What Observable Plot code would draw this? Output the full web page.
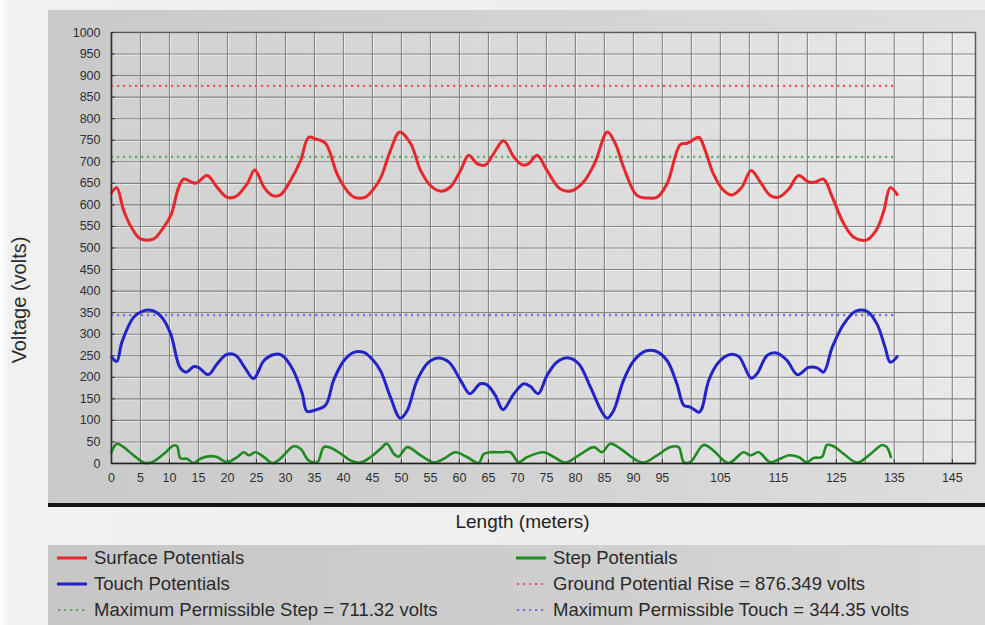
<!DOCTYPE html>
<html>
<head>
<meta charset="utf-8">
<script src="https://cdn.jsdelivr.net/npm/d3@7"></script>
<script src="https://cdn.jsdelivr.net/npm/@observablehq/plot@0.6"></script>
<style>
  html, body { margin: 0; padding: 0; background: #ffffff; }
  body { font-family: "Liberation Sans", Arial, sans-serif; }
  #wrap { position: relative; width: 985px; height: 625px; overflow: hidden;
          background: linear-gradient(to right, #ffffff 0px, #f1f1f1 8px, #ececec 100%); }
  #panel { position: absolute; left: 48px; top: 10px; width: 937px; height: 493px;
           background: linear-gradient(to right, #c9c9c9 0%, #d2d2d2 50%, #dedede 100%);
           border-bottom: 4px solid #141414; }
  #panel svg { display: block; }
  #ylab { position: absolute; left: 19px; top: 300px; transform: translate(-50%, -50%) rotate(-90deg);
          font-size: 20px; color: #2a2a2a; white-space: nowrap; }
  #xlab { position: absolute; left: 54px; width: 937px; top: 511px; text-align: center;
          font-size: 19px; color: #222; }
  #legend { position: absolute; left: 48px; top: 545px; width: 937px; height: 80px;
            background: linear-gradient(to right, #c6c6c6 0%, #cfcfcf 60%, #d8d8d8 100%); }
  .item { position: absolute; height: 26px; line-height: 26px; font-size: 18.5px; color: #2a2a2a;
          white-space: nowrap; display: flex; align-items: center; }
  .item svg { margin-right: 7px; }
</style>
</head>
<body>
<div id="wrap">
  <div id="ylab">Voltage (volts)</div>
  <div id="panel"></div>
  <div id="xlab">Length (meters)</div>
  <div id="legend"></div>
</div>
<script>
// ---------- Data ----------
const surfaceX = [0,0.9,2.1,3.6,5,7.3,8.4,10.2,11.6,12.5,14.5,16.5,18.2,19.9,21.4,23.4,24.7,26.3,27.7,29.1,30.9,32.6,34,35.2,36.9,38.9,40.6,41.8,43.8,45.2,46.4,48.1,49.7,51.6,53.3,55,56.7,58.4,60.2,61.6,63.1,64.5,65.9,67.6,69.4,70.8,71.9,73.4,75.1,77.4,79.4,81.4,83.4,85.5,86.9,88.3,90.6,92.4,94.1,95.8,98.1,99.3,100.1,101.3,102.4,103.8,105.6,107,108.7,110.3,111.9,113.6,115.1,116.8,118.5,120.2,121.4,122.8,124.3,126.3,128,130.3,132,133.2,134.3,135.5];
const surfaceV = [628,640,587,544,521,521,537,575,641,660,650,668,641,618,619,649,681,641,622,623,657,703,757,753,743,672,633,618,618,637,662,726,769,742,680,645,632,641,680,715,695,693,719,749,711,693,695,715,680,637,633,653,699,769,742,688,622,616,618,649,740,743,749,757,726,672,633,623,641,680,653,622,618,637,668,653,653,660,618,556,525,519,544,587,640,624];

const touchX = [0,0.9,1.8,3.8,5.3,7,8.7,10.2,11.8,12.9,14.2,15.1,16.7,18.2,19.9,21.4,23.1,24.5,26.3,28,29.4,31.2,32.9,33.7,34.9,36.9,38.3,40.1,41.8,43.5,44.9,46.4,48.1,49.8,51,52.7,54.7,56.4,58.2,60.2,61.8,63.6,64.7,66.2,67.5,69.4,71.1,72.2,73.6,75.1,76.8,78.8,80.6,82.6,84.6,85.5,86.6,88.3,90.1,92.1,93.8,95.8,97.5,98.7,99.8,101.3,101.8,103,104.7,106.7,108.2,110.3,111.3,113.1,114.8,116.5,118.3,120.2,121.7,122.8,124.3,126.3,128.3,130.3,132,133.4,134.3,135.5];
const touchV = [247,237,282,339,353,355,339,301,223,212,225,222,206,231,253,251,220,197,239,253,251,220,162,121,123,135,193,239,258,258,243,215,154,105,123,193,235,245,235,193,162,185,183,158,125,162,185,179,162,204,235,245,231,177,119,105,123,193,239,261,261,239,185,135,131,119,127,193,235,253,248,198,208,251,256,239,206,223,222,212,270,324,353,353,324,270,235,248];

const stepX = [0,0.9,2.1,3.8,5.6,7,9,10.7,11.3,11.9,13,14.2,15.3,17.1,18.2,19.9,21.7,22.8,23.7,24.8,26.3,27.7,29.1,31.4,32.6,34,35.5,36.6,37.5,39.2,41.2,42.9,44.7,46.4,47.5,48.7,49.5,51,53.3,55.6,57.3,59.3,61.3,63.3,64.2,65.3,67.1,68.8,70.2,71.7,74.5,76.3,78.3,80.9,83.2,84.6,86,87.8,90.1,91.8,94.1,96.4,97.8,98.7,99.8,102.1,103.8,106.4,109,110.2,111.6,113.6,115.3,116.8,118.5,119.9,121.1,122.5,123.4,124.5,126.3,128.6,130.9,132.9,133.7,134.4];
const stepV = [26,46,38,19,2,3,22,42,40,12,11,1,11,17,15,3,15,26,19,26,15,1,11,40,34,7,3,38,38,26,7,2,15,34,46,22,16,38,19,2,11,26,15,1,22,26,26,26,3,15,26,15,2,22,38,26,46,34,11,2,19,38,38,3,3,43,30,1,26,19,26,3,11,19,15,3,13,15,43,40,22,2,22,43,38,15];

const refNames = ["Ground Potential Rise", "Maximum Permissible Step", "Maximum Permissible Touch"];
const refValues = [876.349, 711.32, 344.35];

const xTickValues = [0,5,10,15,20,25,30,35,40,45,50,55,60,65,70,75,80,85,90,95,105,115,125,135,145];
const xGridValues = [0,5,10,15,20,25,30,35,40,45,50,55,60,65,70,75,80,85,90,95,100,105,110,115,120,125,130,135,140,145];
const yTickValues = [0,50,100,150,200,250,300,350,400,450,500,550,600,650,700,750,800,850,900,950,1000];
const xDomain = [0, 149];
const yDomain = [0, 1000];

// ---------- Styles ----------
const seriesStyle = {
  surface: {name: "Surface Potentials", color: "#e8262b"},
  step:    {name: "Step Potentials",    color: "#1f8a22"},
  touch:   {name: "Touch Potentials",   color: "#2323cc"}
};
const refColors = ["#e8585c", "#5fae5f", "#7373e6"];

// ---------- Tables ----------
const surface = surfaceX.map((x, i) => ({x, v: surfaceV[i]}));
const touch = touchX.map((x, i) => ({x, v: touchV[i]}));
const step = stepX.map((x, i) => ({x, v: stepV[i]}));
const refEnd = d3.max(surfaceX);
const refs = refValues.map((v, i) => ({name: refNames[i], v, color: refColors[i]}));

const chart = Plot.plot({
  width: 937,
  height: 493,
  marginLeft: 63,
  marginRight: 10,
  marginTop: 22,
  marginBottom: 40,
  style: {background: "transparent", fontFamily: "'Liberation Sans', Arial, sans-serif", fontSize: "12.5px", color: "#303030", overflow: "visible"},
  x: {domain: xDomain},
  y: {domain: yDomain},
  marks: [
    Plot.frame({fill: "#dadada"}),
    Plot.gridX(xGridValues, {stroke: "#ffffff", strokeOpacity: 0.6, dx: 1}),
    Plot.gridY(yTickValues, {stroke: "#ffffff", strokeOpacity: 0.6, dy: 1}),
    Plot.gridX(xGridValues, {stroke: "#858585", strokeOpacity: 1, strokeWidth: 1.1}),
    Plot.gridY(yTickValues, {stroke: "#858585", strokeOpacity: 1, strokeWidth: 1.1}),
    Plot.frame({stroke: "#5a5a5a", strokeWidth: 1.5}),
    Plot.axisX(xTickValues, {tickSize: 0, tickPadding: 10, label: null, tickFormat: d => String(d)}),
    Plot.axisX(xTickValues, {tickSize: 4, dy: -4, label: null, tickFormat: () => "", stroke: "#333"}),
    Plot.axisY(yTickValues, {tickSize: 0, tickPadding: 11, label: null, tickFormat: d => String(d)}),
    Plot.axisY(yTickValues, {tickSize: 4, dx: 4, label: null, tickFormat: () => "", stroke: "#333"}),
    Plot.ruleY(refs, {y: "v", x1: 0, x2: refEnd, stroke: "color", strokeWidth: 2.2, strokeDasharray: "2.2,3.8"}),
    Plot.line(surface, {x: "x", y: "v", stroke: seriesStyle.surface.color, strokeWidth: 3, curve: "catmull-rom", strokeLinejoin: "round"}),
    Plot.line(touch, {x: "x", y: "v", stroke: seriesStyle.touch.color, strokeWidth: 3, curve: "catmull-rom", strokeLinejoin: "round"}),
    Plot.line(step, {x: "x", y: "v", stroke: seriesStyle.step.color, strokeWidth: 2.6, curve: "catmull-rom", strokeLinejoin: "round"}),
    Plot.ruleY([0], {stroke: "#202020", strokeWidth: 1.5}),
    Plot.ruleX([0], {stroke: "#303030", strokeWidth: 1.5})
  ]
});

// plot-area gradient
const ns = "http://www.w3.org/2000/svg";
const defs = document.createElementNS(ns, "defs");
const grad = document.createElementNS(ns, "linearGradient");
grad.setAttribute("id", "plotbg");
grad.setAttribute("x1", "0"); grad.setAttribute("x2", "1"); grad.setAttribute("y1", "0"); grad.setAttribute("y2", "0");
[["0%", "#d1d1d1"], ["55%", "#dbdbdb"], ["100%", "#e9e9e9"]].forEach(([o, c]) => {
  const s = document.createElementNS(ns, "stop");
  s.setAttribute("offset", o); s.setAttribute("stop-color", c);
  grad.appendChild(s);
});
defs.appendChild(grad);
chart.insertBefore(defs, chart.firstChild);
const fr = chart.querySelector('[aria-label="frame"]');
if (fr) {
  const r = fr.tagName.toLowerCase() === "rect" ? fr : fr.querySelector("rect");
  if (r) r.setAttribute("fill", "url(#plotbg)");
}
document.getElementById("panel").appendChild(chart);

// ---------- Legend ----------
function swatch(color, dotted) {
  const w = 30, h = 10;
  const line = dotted
    ? `<line x1="1" y1="5" x2="29" y2="5" stroke="${color}" stroke-width="2.2" stroke-dasharray="2.2,3.8"/>`
    : `<line x1="0" y1="5" x2="30" y2="5" stroke="${color}" stroke-width="3"/>`;
  return `<svg width="${w}" height="${h}">${line}</svg>`;
}
const legendItems = [
  {label: seriesStyle.surface.name, color: seriesStyle.surface.color, dotted: false, col: 0, row: 0},
  {label: seriesStyle.touch.name, color: seriesStyle.touch.color, dotted: false, col: 0, row: 1},
  {label: `${refNames[1]} = ${refValues[1]} volts`, color: refColors[1], dotted: true, col: 0, row: 2},
  {label: seriesStyle.step.name, color: seriesStyle.step.color, dotted: false, col: 1, row: 0},
  {label: `${refNames[0]} = ${refValues[0]} volts`, color: refColors[0], dotted: true, col: 1, row: 1},
  {label: `${refNames[2]} = ${refValues[2]} volts`, color: refColors[2], dotted: true, col: 1, row: 2}
];
const legend = document.getElementById("legend");
legendItems.forEach(it => {
  const d = document.createElement("div");
  d.className = "item";
  d.style.left = (it.col === 0 ? 9 : 468) + "px";
  d.style.top = (it.row * 26) + "px";
  d.innerHTML = swatch(it.color, it.dotted) + `<span>${it.label}</span>`;
  legend.appendChild(d);
});
</script>
</body>
</html>
